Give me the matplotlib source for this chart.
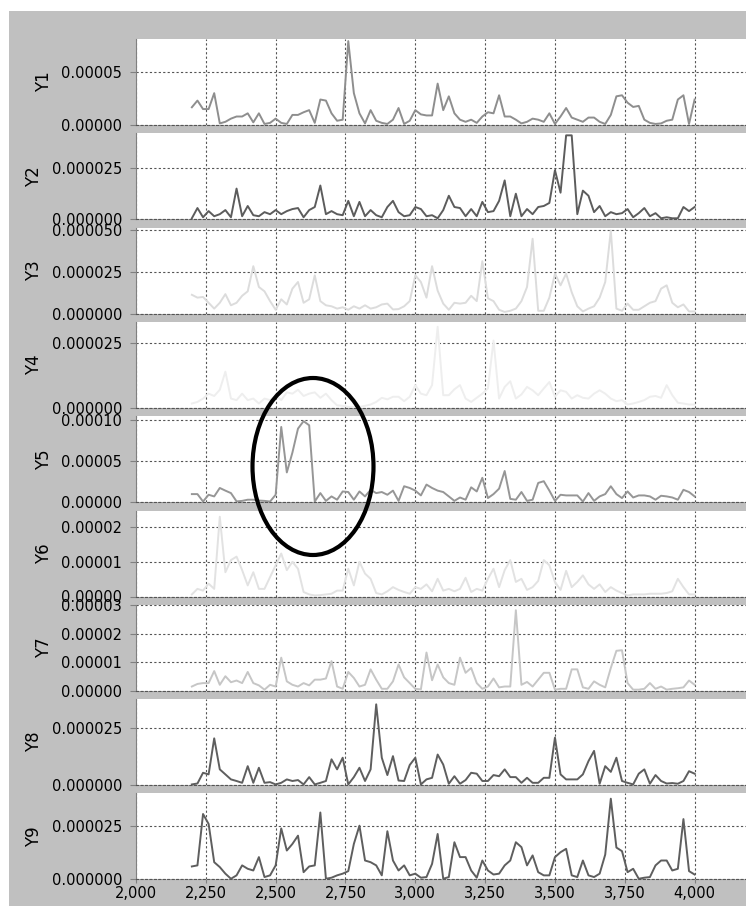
import numpy as np
import matplotlib
matplotlib.use("Agg")
import matplotlib.pyplot as plt
from matplotlib.patches import Ellipse, Rectangle
from matplotlib.ticker import FuncFormatter

# sample positions (x axis) and series values in units of 1e-5
x = list(range(2200, 4001, 20))
SCALE = 1e-5

y1 = [1.67, 2.3, 1.5, 1.5, 3.0, 0.15, 0.3, 0.6, 0.8, 0.8, 1.1, 0.25, 1.1, 0.1, 0.2,
      0.6, 0.2, 0.1, 0.95, 0.95, 1.2, 1.4, 0.2, 2.4, 2.3, 1.1, 0.4, 0.5, 7.9, 3.0,
      1.1, 0.15, 1.4,
      0.4, 0.2, 0.1, 0.5, 1.6, 0.1, 0.4, 1.4, 1.0, 0.9, 0.9, 3.9, 1.4, 2.7, 1.1,
      0.5, 0.3, 0.5, 0.2, 0.8, 1.2, 1.1, 2.8, 0.8, 0.8, 0.5, 0.15, 0.3, 0.6, 0.5,
      0.3, 1.1, 0.1, 0.8, 1.6, 0.7, 0.5, 0.3, 0.7, 0.7, 0.3, 0.1, 0.95, 2.7, 2.8,
      2.1, 1.7, 1.8, 0.5, 0.2, 0.1, 0.15, 0.4, 0.5, 2.4, 2.8, 0.1, 2.4]
y2 = [0.05, 0.55, 0.1, 0.4, 0.15, 0.25, 0.45, 0.1, 1.5, 0.15, 0.65, 0.2, 0.15, 0.35, 0.25,
      0.45, 0.25, 0.4, 0.5, 0.55, 0.1, 0.45, 0.6, 1.65, 0.25, 0.4, 0.25, 0.2, 0.9, 0.15,
      0.85, 0.15, 0.45,
      0.2, 0.1, 0.6, 0.9, 0.35, 0.15, 0.2, 0.6, 0.5, 0.15, 0.2, 0.05, 0.45, 1.15, 0.6,
      0.55, 0.15, 0.5, 0.15, 0.85, 0.35, 0.4, 0.9, 1.9, 0.15, 1.25, 0.15, 0.5, 0.25, 0.6,
      0.65, 0.8, 2.4, 1.3, 4.1, 4.1, 0.25, 1.4, 1.15, 0.35, 0.65, 0.15, 0.35, 0.25, 0.3,
      0.5, 0.1, 0.3, 0.55, 0.15, 0.3, 0.05, 0.1, 0.05, 0.05, 0.6, 0.4, 0.6]
y3 = [1.13, 0.96, 1.0, 0.65, 0.3, 0.65, 1.17, 0.5, 0.65, 1.07, 1.34, 2.85, 1.6, 1.34, 0.75,
      0.23, 0.86, 0.55, 1.5, 1.9, 0.65, 0.86, 2.3, 0.75, 0.5, 0.44, 0.3, 0.38, 0.23, 0.44,
      0.3, 0.5, 0.3,
      0.38, 0.55, 0.6, 0.25, 0.27, 0.44, 0.75, 2.3, 1.9, 0.96, 2.85, 1.38, 0.6, 0.23, 0.65,
      0.6, 0.65, 1.07, 0.75, 3.15, 0.92, 0.75, 0.23, 0.1, 0.17, 0.3, 0.75, 1.6, 4.5, 0.17,
      0.17, 0.96, 2.4, 1.7, 2.4, 1.28, 0.44, 0.13, 0.3, 0.44, 0.96, 1.9, 5.0, 0.3, 0.17,
      0.6, 0.23, 0.23, 0.44, 0.65, 0.75, 1.5, 1.7, 0.65, 0.38, 0.55, 0.13, 0.13]
y4 = [0.17, 0.23, 0.36, 0.55, 0.46, 0.7, 1.4, 0.36, 0.3, 0.55, 0.3, 0.36, 0.17, 0.36, 0.3,
      0.49, 0.3, 0.6, 0.55, 0.7, 0.46, 0.55, 0.6, 0.39, 0.55, 0.3, 0.1, 0.08, 0.04, 0.04,
      0.04, 0.08, 0.13,
      0.23, 0.39, 0.33, 0.43, 0.43, 0.26, 0.43, 0.88, 0.55, 0.49, 0.88, 3.13, 0.49, 0.49, 0.72,
      0.88, 0.36, 0.23, 0.39, 0.55, 0.75, 2.6, 0.36, 0.81, 1.03, 0.36, 0.52, 0.81, 0.68, 0.49,
      0.75, 1.0, 0.43, 0.68, 0.62, 0.36, 0.49, 0.39, 0.36, 0.55, 0.68, 0.55, 0.36, 0.26, 0.3,
      0.13, 0.17, 0.23, 0.3, 0.43, 0.46, 0.39, 0.88, 0.49, 0.2, 0.17, 0.13, 0.13]
y5 = [0.98, 0.98, 0.08, 0.9, 0.7, 1.72, 1.4, 1.1, 0.1, 0.16, 0.3, 0.3, 0.2, 0.16, 0.08,
      0.9, 9.1, 3.6, 6.0, 8.9, 9.8, 9.3, 0.08, 1.1, 0.16, 0.7, 0.3, 1.3, 1.23, 0.3,
      1.3, 0.7, 1.5,
      1.1, 1.23, 0.9, 1.4, 0.16, 1.93, 1.72, 1.4, 0.82, 2.13, 1.72, 1.4, 1.23, 0.7, 0.16,
      0.57, 0.3, 1.8, 1.3, 2.95, 0.5, 0.98, 1.64, 3.77, 0.4, 0.3, 1.23, 0.16, 0.3, 2.33,
      2.54, 1.4, 0.16, 0.9, 0.82, 0.82, 0.82, 0.08, 1.1, 0.16, 0.7, 0.98, 1.93, 0.98, 0.5,
      1.3, 0.57, 0.82, 0.82, 0.7, 0.3, 0.78, 0.7, 0.57, 0.3, 1.5, 1.23, 0.7]
y6 = [0.06, 0.22, 0.17, 0.37, 0.22, 2.3, 0.7, 1.05, 1.15, 0.76, 0.32, 0.7, 0.22, 0.22, 0.56,
      0.9, 1.24, 0.76, 1.0, 0.8, 0.13, 0.06, 0.03, 0.04, 0.06, 0.08, 0.17, 0.17, 0.8, 0.32,
      1.0, 0.66, 0.51,
      0.1, 0.06, 0.15, 0.27, 0.19, 0.13, 0.08, 0.27, 0.22, 0.35, 0.15, 0.51, 0.17, 0.22, 0.15,
      0.22, 0.54, 0.13, 0.22, 0.17, 0.51, 0.8, 0.27, 0.76, 1.05, 0.42, 0.51, 0.19, 0.27, 0.45,
      1.05, 0.9, 0.42, 0.19, 0.74, 0.27, 0.42, 0.61, 0.35, 0.22, 0.35, 0.13, 0.27, 0.17, 0.1,
      0.03, 0.06, 0.06, 0.06, 0.08, 0.08, 0.08, 0.1, 0.15, 0.51, 0.27, 0.06, 0.06]
y7 = [0.15, 0.24, 0.27, 0.27, 0.69, 0.21, 0.51, 0.3, 0.36, 0.27, 0.66, 0.27, 0.19, 0.04, 0.21,
      0.15, 1.16, 0.33, 0.21, 0.15, 0.27, 0.19, 0.39, 0.39, 0.43, 1.04, 0.15, 0.07, 0.66, 0.45,
      0.15, 0.21, 0.75,
      0.39, 0.07, 0.07, 0.33, 0.92, 0.47, 0.27, 0.07, 0.05, 1.34, 0.37, 0.92, 0.47, 0.27, 0.21,
      1.16, 0.63, 0.8, 0.27, 0.07, 0.15, 0.43, 0.12, 0.15, 0.15, 2.82, 0.21, 0.31, 0.15, 0.39,
      0.63, 0.63, 0.04, 0.07, 0.07, 0.75, 0.75, 0.12, 0.07, 0.33, 0.21, 0.12, 0.8, 1.4, 1.42,
      0.27, 0.04, 0.04, 0.07, 0.27, 0.07, 0.15, 0.04, 0.07, 0.09, 0.12, 0.36, 0.21]
y8 = [0.03, 0.07, 0.54, 0.47, 2.05, 0.69, 0.47, 0.25, 0.18, 0.1, 0.83, 0.1, 0.76, 0.1, 0.13,
      0.03, 0.1, 0.25, 0.18, 0.22, 0.03, 0.35, 0.03, 0.1, 0.18, 1.13, 0.69, 1.2, 0.03, 0.35,
      0.76, 0.18, 0.69,
      3.54, 1.2, 0.44, 1.27, 0.2, 0.18, 0.88, 1.2, 0.03, 0.25, 0.32, 1.34, 0.9, 0.06, 0.39,
      0.06, 0.22, 0.54, 0.5, 0.18, 0.18, 0.44, 0.39, 0.69, 0.35, 0.35, 0.1, 0.32, 0.1, 0.1,
      0.32, 0.32, 2.08, 0.47, 0.25, 0.25, 0.25, 0.47, 1.05, 1.5, 0.06, 0.83, 0.58, 1.2, 0.18,
      0.1, 0.03, 0.5, 0.69, 0.06, 0.44, 0.18, 0.07, 0.09, 0.06, 0.18, 0.61, 0.5]
y9 = [0.61, 0.66, 3.08, 2.61, 0.81, 0.58, 0.27, 0.03, 0.19, 0.66, 0.5, 0.42, 1.05, 0.11, 0.19,
      0.66, 2.4, 1.36, 1.67, 2.06, 0.34, 0.61, 0.66, 3.15, 0.03, 0.08, 0.19, 0.27, 0.39, 1.67,
      2.53, 0.89, 0.81,
      0.66, 0.19, 2.27, 0.89, 0.42, 0.66, 0.19, 0.27, 0.08, 0.11, 0.73, 2.14, 0.03, 0.11, 1.75,
      1.05, 1.05, 0.42, 0.08, 0.89, 0.42, 0.23, 0.27, 0.66, 0.89, 1.75, 1.52, 0.66, 1.13, 0.34,
      0.19, 0.19, 1.05, 1.28, 1.44, 0.19, 0.11, 0.89, 0.19, 0.11, 0.27, 1.17, 3.8, 1.5, 1.33,
      0.34, 0.5, 0.03, 0.08, 0.11, 0.66, 0.89, 0.89, 0.42, 0.5, 2.84, 0.39, 0.23]

names = ["Y1", "Y2", "Y3", "Y4", "Y5", "Y6", "Y7", "Y8", "Y9"]
series = [y1, y2, y3, y4, y5, y6, y7, y8, y9]
colors = ["#8e8e8e", "#5c5c5c", "#dcdcdc", "#eeeeee", "#969696",
          "#e2e2e2", "#c6c6c6", "#5e5e5e", "#5e5e5e"]
yticks = [[0, 5e-5], [0, 2.5e-5], [0, 2.5e-5, 5e-5], [0, 2.5e-5], [0, 5e-5, 1e-4],
          [0, 1e-5, 2e-5], [0, 1e-5, 2e-5, 3e-5], [0, 2.5e-5], [0, 2.5e-5]]
ytops = [8.1e-5, 4.2e-5, 5.17e-5, 3.32e-5, 1.04e-4, 2.48e-5, 3.01e-5, 3.77e-5, 4.05e-5]
decimals = [5, 6, 6, 6, 5, 5, 5, 6, 6]

W, H = 746, 906
fig = plt.figure(figsize=(W / 100, H / 100), dpi=100)
fig.patch.set_facecolor("white")
fig.add_artist(Rectangle((9 / W, 0), 1 - 9 / W, 1 - 11 / H, transform=fig.transFigure,
                         facecolor="#c0c0c0", edgecolor="none", zorder=-5))

left = 136 / W
xs = np.array(x)
for i, (name, ys) in enumerate(zip(names, series)):
    top_px = 39 + i * 94.3
    ax = fig.add_axes([left, 1 - (top_px + 86) / H, 1 - left, 86 / H])
    ax.set_facecolor("white")
    ax.plot(xs, np.array(ys) * SCALE, color=colors[i], lw=1.4)
    ax.set_xlim(2000, 4184)
    ax.set_ylim(0, ytops[i])
    ax.set_xticks(range(2000, 4001, 250))
    ax.set_yticks(yticks[i])
    d = decimals[i]
    ax.yaxis.set_major_formatter(FuncFormatter(lambda v, p, d=d: f"{v:.{d}f}"))
    ax.grid(True, color="#555555", linestyle=(0, (2, 2)), lw=0.8)
    for s in ["top", "right"]:
        ax.spines[s].set_visible(False)
    ax.spines["left"].set_color("#808080")
    ax.spines["bottom"].set_color("#555555")
    ax.spines["bottom"].set_linestyle((0, (2, 2)))
    ax.spines["bottom"].set_linewidth(0.8)
    ax.tick_params(axis="y", length=4, color="#808080", labelsize=10.5, pad=6)
    ax.tick_params(axis="x", length=3, color="#808080", labelsize=10.5, pad=2)
    ax.set_ylabel(name, fontsize=12, labelpad=6)
    if i < len(names) - 1:
        ax.tick_params(axis="x", labelbottom=False, length=0)
    else:
        ax.xaxis.set_major_formatter(FuncFormatter(lambda v, p: f"{v:,.0f}"))

# hand-drawn highlight around the Y5 burst
fig.add_artist(Ellipse((313 / W, 1 - 466.5 / H), 121 / W, 177 / H,
                       transform=fig.transFigure, fill=False, lw=3, edgecolor="black", zorder=10))

fig.savefig("out.png", dpi=100, facecolor=fig.get_facecolor())
